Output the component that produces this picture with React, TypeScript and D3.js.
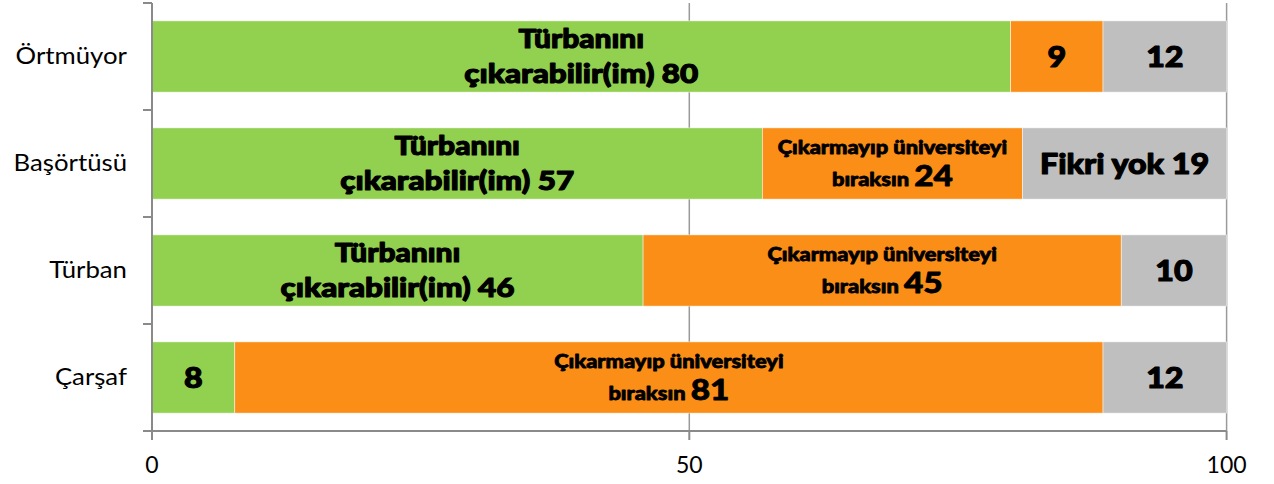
import React from "react";
import * as d3 from "d3";

const categories = ["Örtmüyor", "Başörtüsü", "Türban", "Çarşaf"];
const cikarabilir = [79.9, 56.8, 45.7, 7.7];
const birakSin = [8.6, 24.2, 44.5, 80.8];
const fikriYok = [11.5, 19.0, 9.8, 11.5];
const xTicks = [0, 50, 100];

const greenLongText = [true, true, true, false];
const orangeLongText = [false, true, true, true];
const greyLongText = [false, true, false, false];

const W = 1274;
const H = 484;
const LEFT = 152;
const RIGHT = 1226.6;
const TOP = 3;
const BOTTOM = 431;

const COLORS = ["#92D050", "#FA8E17", "#BFBFBF"];
const HEAVY = "Lato, Roboto, 'DejaVu Sans', sans-serif";
const REG = "Lato, 'Open Sans', 'DejaVu Sans', sans-serif";
const SX = 1.15;

export default function App() {
  const x = d3.scaleLinear().domain([0, 100]).range([LEFT, RIGHT]);
  const y = d3
    .scaleBand<string>()
    .domain(categories)
    .range([TOP, BOTTOM])
    .paddingInner(0.334)
    .paddingOuter(0.167);

  const rows = categories.map((c, i) => ({
    c,
    vals: [cikarabilir[i], birakSin[i], fikriYok[i]],
  }));
  const stacked = rows.map((r) => {
    let acc = 0;
    return r.vals.map((v) => {
      const s = acc;
      acc += v;
      return [s, acc];
    });
  });

  const step = y.step();
  const boundaries = d3.range(categories.length + 1).map((k) => TOP + k * step);

  const heavyProps = {
    fontFamily: HEAVY,
    fontWeight: 900,
    fill: "#000",
    stroke: "#000",
    strokeWidth: 1.1,
    strokeLinejoin: "round" as const,
    textAnchor: "middle" as const,
  };

  const renderLabel = (i: number, k: number, x0: number, x1: number) => {
    const cx = (x0 + x1) / 2;
    const cy = (y(categories[i]) as number) + y.bandwidth() / 2;
    const v = Math.round(rows[i].vals[k]);
    let content;
    if (k === 0 && greenLongText[i]) {
      content = (
        <g>
          <text {...heavyProps} fontSize={26} x={0} y={cy - 8}>Türbanını</text>
          <text
            {...heavyProps}
            fontSize={26}
            x={-117 / SX}
            y={cy + 27}
            textAnchor="start"
            textLength={234 / SX}
            lengthAdjust="spacingAndGlyphs"
          >
            {`çıkarabilir(im) ${v}`}
          </text>
        </g>
      );
    } else if (k === 1 && orangeLongText[i]) {
      content = (
        <text {...heavyProps} strokeWidth={0.8}>
          <tspan x={0} y={cy - 9.5} fontSize={19}>Çıkarmayıp üniversiteyi</tspan>
          <tspan x={0} y={cy + 23} fontSize={19}>
            bıraksın <tspan fontSize={29}>{v}</tspan>
          </tspan>
        </text>
      );
    } else if (k === 2 && greyLongText[i]) {
      content = (
        <text {...heavyProps} x={0} y={cy + 11} fontSize={28}>
          {`Fikri yok ${v}`}
        </text>
      );
    } else {
      content = (
        <text {...heavyProps} x={0} y={cy + 11} fontSize={28}>
          {v}
        </text>
      );
    }
    return <g transform={`translate(${cx},0) scale(${SX},1)`}>{content}</g>;
  };

  return (
    <svg
      width={W}
      height={H}
      style={{ position: "absolute", left: 0, top: 0, display: "block", background: "#fff" }}
    >
      {/* gridlines */}
      {xTicks.slice(1).map((t) => (
        <line key={"g" + t} x1={x(t)} x2={x(t)} y1={TOP} y2={BOTTOM} stroke="#9a9a9a" strokeWidth={1.5} />
      ))}
      {/* bars */}
      {stacked.map((segs, i) =>
        segs.map(([a, b], k) => (
          <rect
            key={`r${i}-${k}`}
            x={x(a)}
            y={y(categories[i])}
            width={x(b) - x(a)}
            height={y.bandwidth()}
            fill={COLORS[k]}
            stroke="#ffffff"
            strokeOpacity={0.6}
            strokeWidth={0.8}
          />
        ))
      )}
      {/* labels */}
      {stacked.map((segs, i) =>
        segs.map(([a, b], k) => <g key={`l${i}-${k}`}>{renderLabel(i, k, x(a), x(b))}</g>)
      )}
      {/* y axis */}
      <line x1={LEFT} x2={LEFT} y1={TOP} y2={BOTTOM + 9} stroke="#8a8a8a" strokeWidth={2} />
      {boundaries.map((b, k) => (
        <line key={"yt" + k} x1={LEFT - 9} x2={LEFT} y1={b} y2={b} stroke="#8a8a8a" strokeWidth={2} />
      ))}
      {categories.map((c) => (
        <g key={"c" + c} transform={`translate(127,0) scale(1.12,1)`}>
          <text
            x={0}
            y={(y(c) as number) + y.bandwidth() / 2 + 8}
            textAnchor="end"
            fontFamily={REG}
            fontSize={23}
            fill="#000"
          >
            {c}
          </text>
        </g>
      ))}
      {/* x axis */}
      <line x1={LEFT - 9} x2={RIGHT} y1={BOTTOM} y2={BOTTOM} stroke="#8a8a8a" strokeWidth={2} />
      {xTicks.map((t) => (
        <g key={"xt" + t}>
          <line x1={x(t)} x2={x(t)} y1={BOTTOM} y2={BOTTOM + 9} stroke="#8a8a8a" strokeWidth={2} />
          <text x={x(t)} y={473} textAnchor="middle" fontFamily={REG} fontSize={23} fill="#000">
            {t}
          </text>
        </g>
      ))}
    </svg>
  );
}
